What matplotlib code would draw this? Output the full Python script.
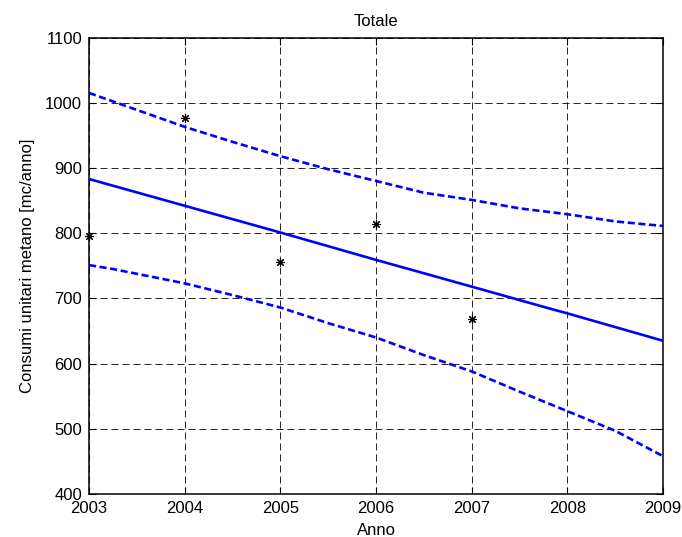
import matplotlib
matplotlib.use("Agg")
import matplotlib.pyplot as plt

plt.rcParams['font.family'] = ['Liberation Sans', 'DejaVu Sans']

# observed data (stars)
obs_years = [2003, 2004, 2005, 2006, 2007]
obs_values = [796, 976, 755, 814, 668]

# fitted trend line
fit_years = [2003, 2004, 2005, 2006, 2007, 2007.8, 2008, 2009]
fit_values = [883, 842, 801, 759, 718, 685, 677, 635]

# upper prediction bound
up_years = [2003, 2003.5, 2004, 2004.5, 2005, 2005.5, 2006, 2006.5, 2007, 2007.5, 2008, 2008.5, 2009]
up_values = [1015, 989, 963, 940, 918, 898, 880, 862, 851, 838, 829, 818, 811]

# lower prediction bound
lo_years = [2003, 2003.25, 2004, 2004.5, 2005, 2005.5, 2006, 2006.5, 2007, 2007.5, 2008, 2008.5, 2009]
lo_values = [751, 745, 723, 705, 686, 662, 640, 613, 588, 557, 527, 497, 458]

xticks = [2003, 2004, 2005, 2006, 2007, 2008, 2009]
yticks = [400, 500, 600, 700, 800, 900, 1000, 1100]

fig = plt.figure(figsize=(6.82, 5.37), dpi=100)
ax = fig.add_axes([89/682, 1 - 494/537, (663-89)/682, (494-37.5)/537])

ax.plot(fit_years, fit_values, color='#0000ff', lw=1.9, zorder=3)
ax.plot(up_years, up_values, color='#0000ff', lw=1.9, ls=(0, (2.7, 1.35)), zorder=3)
ax.plot(lo_years, lo_values, color='#0000ff', lw=1.9, ls=(0, (2.7, 1.35)), zorder=3)
ax.plot(obs_years, obs_values, ls='none', marker=(8, 2, 0), ms=6.5, mew=0.8,
        color='black', zorder=4, clip_on=False)

ax.set_xlim(2003, 2009)
ax.set_ylim(400, 1100)
ax.set_xticks(xticks)
ax.set_yticks(yticks)
ax.set_xticklabels([str(t) for t in xticks])
ax.set_yticklabels([str(t) for t in yticks])
ax.grid(True, color='black', ls=(0, (8.4, 4.8)), lw=0.6)
ax.set_axisbelow(True)
ax.tick_params(direction='in', length=5, top=True, right=True, labelsize=12, pad=5, width=0.8)
for s in ax.spines.values():
    s.set_linewidth(1.1)

ax.set_title('Totale', fontsize=12, pad=8)
ax.set_xlabel('Anno', fontsize=12, labelpad=5)
ax.set_ylabel('Consumi unitari metano [mc/anno]', fontsize=12, labelpad=7)

fig.savefig('out.png', dpi=100)
